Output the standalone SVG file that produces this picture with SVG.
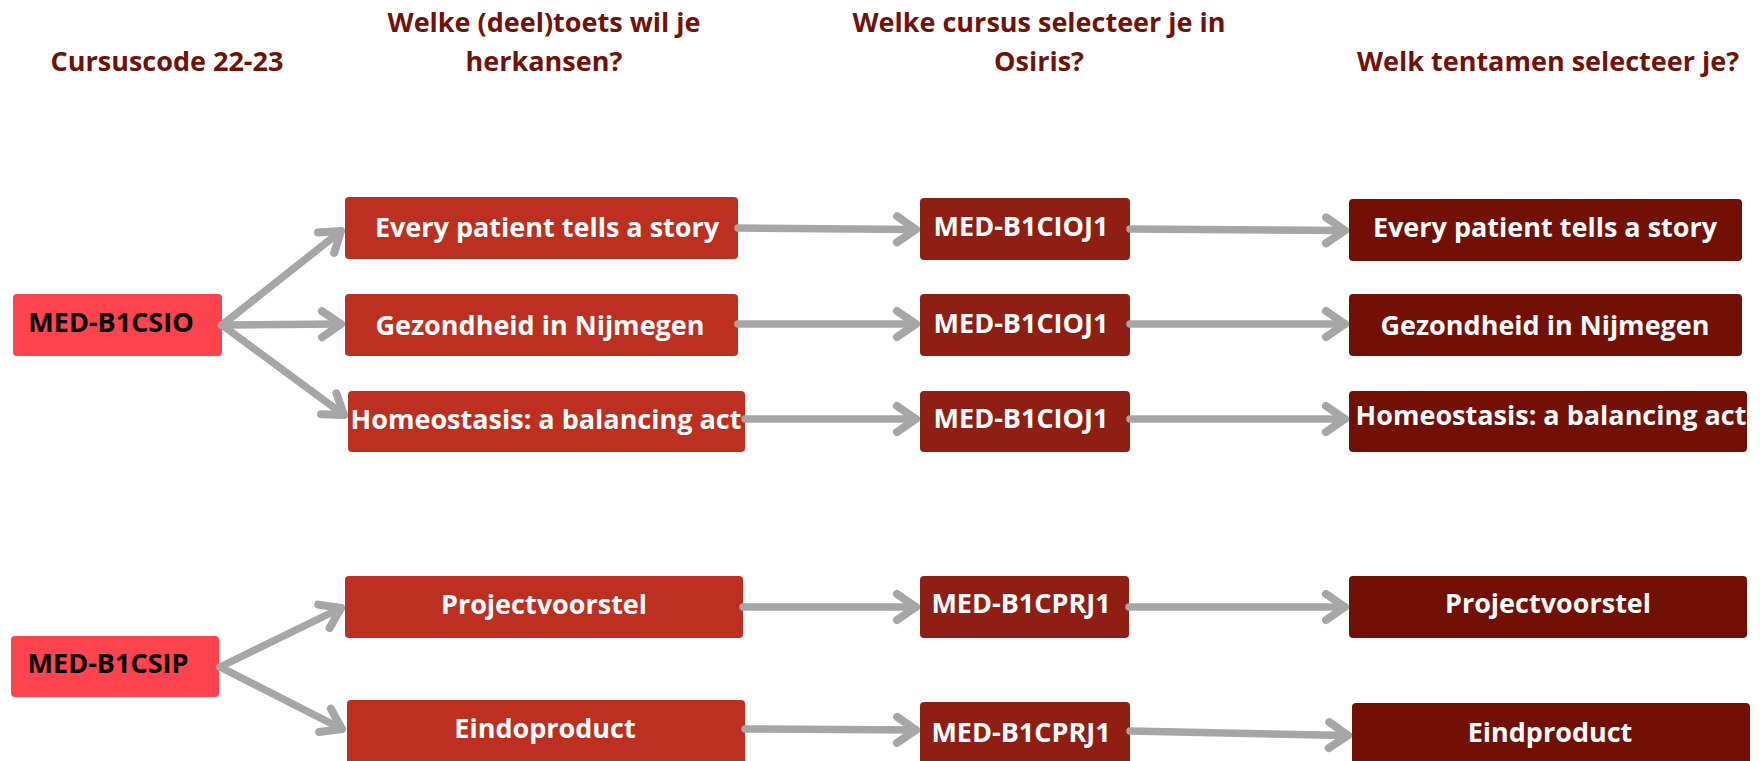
<svg xmlns="http://www.w3.org/2000/svg" width="1760" height="761" viewBox="0 0 1760 761">
<style>
text{font-family:"Open Sans","Liberation Sans",sans-serif;font-weight:700;font-size:27px;text-anchor:middle}
.hdr{fill:#731007}
.t{fill:#ffffff}
.tb{fill:#000000}
.c0{fill:#ff434f}
.c1{fill:#bd2f20}
.c2{fill:#8f1f14}
.c3{fill:#731006}
.conn line{stroke:#a6a6a6;stroke-width:7.5;stroke-linecap:round;fill:none;marker-end:url(#arr)}
</style>
<defs>
<marker id="arr" markerUnits="userSpaceOnUse" orient="auto" viewBox="-30 -20 40 40" markerWidth="40" markerHeight="40" refX="0" refY="0" overflow="visible">
<path d="M-19,-13 L0,0 L-19,13" fill="none" stroke="#a6a6a6" stroke-width="8" stroke-linecap="round" stroke-linejoin="round"/>
</marker>
</defs>
<rect width="1760" height="761" fill="#ffffff"/>
<g id="headers">
<text class="hdr" x="167" y="71">Cursuscode 22-23</text>
<text class="hdr" x="544" y="32">Welke (deel)toets wil je</text>
<text class="hdr" x="544" y="71">herkansen?</text>
<text class="hdr" x="1039" y="32">Welke cursus selecteer je in</text>
<text class="hdr" x="1039" y="71">Osiris?</text>
<text class="hdr" x="1548" y="71">Welk tentamen selecteer je?</text>
</g>
<g id="n-csio"><rect class="c0" x="13" y="294" width="209" height="62" rx="4"/><text class="tb" x="111" y="332">MED-B1CSIO</text></g>
<g id="n-csip"><rect class="c0" x="11" y="636" width="208" height="61" rx="4"/><text class="tb" x="108" y="673">MED-B1CSIP</text></g>
<g id="n-t1"><rect class="c1" x="345" y="197" width="393" height="62" rx="4"/><text class="t" x="547" y="237">Every patient tells a story</text></g>
<g id="n-t2"><rect class="c1" x="345" y="294" width="393" height="62" rx="4"/><text class="t" x="540" y="335">Gezondheid in Nijmegen</text></g>
<g id="n-t3"><rect class="c1" x="348" y="391" width="397" height="61" rx="4"/><text class="t" x="546" y="429">Homeostasis: a balancing act</text></g>
<g id="n-t4"><rect class="c1" x="345" y="576" width="398" height="62" rx="4"/><text class="t" x="544" y="614">Projectvoorstel</text></g>
<g id="n-t5"><rect class="c1" x="347" y="700" width="398" height="64" rx="4"/><text class="t" x="545" y="738">Eindoproduct</text></g>
<g id="n-c1"><rect class="c2" x="920" y="198" width="210" height="62" rx="4"/><text class="t" x="1021" y="236">MED-B1CIOJ1</text></g>
<g id="n-c2"><rect class="c2" x="920" y="294" width="210" height="62" rx="4"/><text class="t" x="1021" y="333">MED-B1CIOJ1</text></g>
<g id="n-c3"><rect class="c2" x="920" y="391" width="210" height="61" rx="4"/><text class="t" x="1021" y="428">MED-B1CIOJ1</text></g>
<g id="n-c4"><rect class="c2" x="920" y="576" width="209" height="62" rx="4"/><text class="t" x="1021" y="613">MED-B1CPRJ1</text></g>
<g id="n-c5"><rect class="c2" x="920" y="702" width="210" height="62" rx="4"/><text class="t" x="1021" y="742">MED-B1CPRJ1</text></g>
<g id="n-e1"><rect class="c3" x="1349" y="199" width="393" height="62" rx="4"/><text class="t" x="1545" y="237">Every patient tells a story</text></g>
<g id="n-e2"><rect class="c3" x="1349" y="294" width="393" height="62" rx="4"/><text class="t" x="1545" y="335">Gezondheid in Nijmegen</text></g>
<g id="n-e3"><rect class="c3" x="1349" y="391" width="398" height="61" rx="4"/><text class="t" x="1551" y="425">Homeostasis: a balancing act</text></g>
<g id="n-e4"><rect class="c3" x="1349" y="576" width="398" height="62" rx="4"/><text class="t" x="1548" y="613">Projectvoorstel</text></g>
<g id="n-e5"><rect class="c3" x="1352" y="703" width="398" height="62" rx="4"/><text class="t" x="1550" y="742">Eindproduct</text></g>
<g id="connectors" class="conn">
<line x1="222" y1="325" x2="341" y2="231"/>
<line x1="222" y1="325" x2="341" y2="324"/>
<line x1="222" y1="325" x2="344" y2="415"/>
<line x1="220" y1="667" x2="341" y2="608"/>
<line x1="220" y1="667" x2="342" y2="729"/>
<line x1="738" y1="228" x2="916" y2="229.5"/>
<line x1="1130" y1="229" x2="1345" y2="230.5"/>
<line x1="738" y1="324" x2="916" y2="324"/>
<line x1="1130" y1="324" x2="1345" y2="324"/>
<line x1="745" y1="419" x2="916" y2="419"/>
<line x1="1130" y1="419" x2="1345" y2="419"/>
<line x1="743" y1="607" x2="916" y2="607"/>
<line x1="1129" y1="607" x2="1345" y2="607"/>
<line x1="745" y1="729" x2="916" y2="730"/>
<line x1="1130" y1="731" x2="1348" y2="735.5"/>
</g>
</svg>
